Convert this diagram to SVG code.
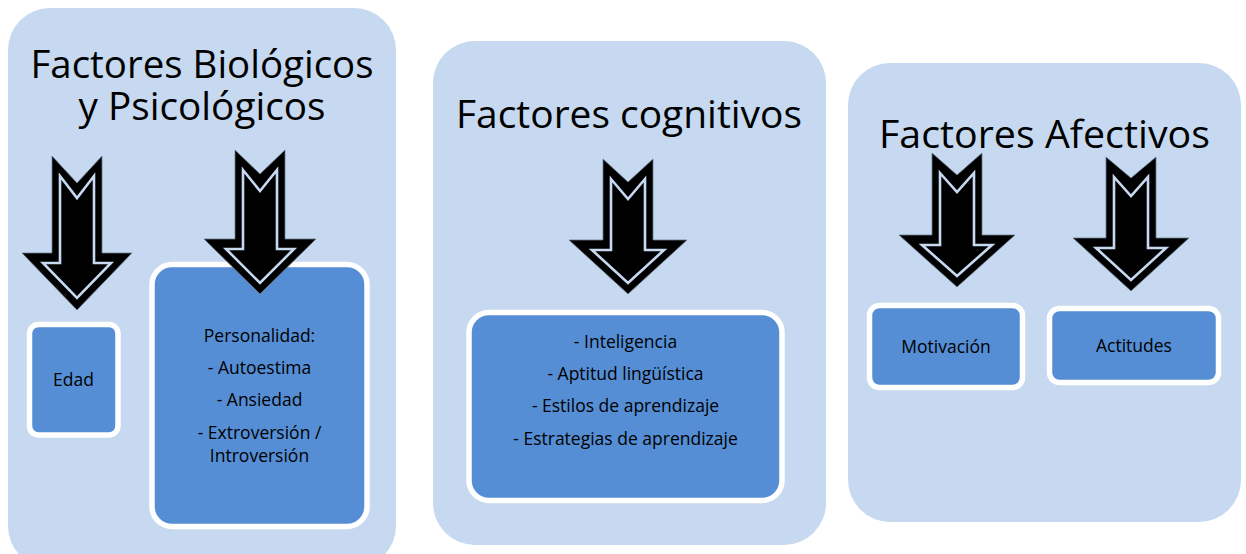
<svg xmlns="http://www.w3.org/2000/svg" width="1246" height="554" viewBox="0 0 1246 554">
<style>
.panel{fill:#c6d9f0;}
.box{fill:#558ed5;stroke:#ffffff;stroke-width:5.5;}
.title{font-family:"Open Sans","Liberation Sans",sans-serif;font-size:38px;fill:#000;text-anchor:middle;}
.lbl{font-family:"Open Sans","Liberation Sans",sans-serif;font-size:17.5px;fill:#000;text-anchor:middle;}
.aout{fill:#000;stroke:#6a7a8c;stroke-width:0.8;stroke-linejoin:miter;}
.ain{fill:#000;stroke:#c6d9f0;stroke-width:2.6;stroke-linejoin:miter;}
</style>
<rect width="1246" height="554" fill="#ffffff"/>
<g id="panel-biologicos">
<rect class="panel" x="8" y="8" width="388" height="560" rx="42"/>
<text class="title" x="202" y="78" textLength="343" lengthAdjust="spacingAndGlyphs">Factores Biológicos</text>
<text class="title" x="202" y="120" textLength="247" lengthAdjust="spacingAndGlyphs">y Psicológicos</text>
</g>
<g id="panel-cognitivos">
<rect class="panel" x="433" y="41" width="393" height="504" rx="42"/>
<text class="title" x="629" y="128" textLength="346" lengthAdjust="spacingAndGlyphs">Factores cognitivos</text>
</g>
<g id="panel-afectivos">
<rect class="panel" x="848" y="63" width="393" height="459" rx="42"/>
<text class="title" x="1044.5" y="148" textLength="331" lengthAdjust="spacingAndGlyphs">Factores Afectivos</text>
</g>
<g id="node-edad">
<rect class="box" x="29.5" y="324.5" width="88.5" height="110.5" rx="9"/>
<text class="lbl" x="73.5" y="386">Edad</text>
</g>
<g id="node-personalidad">
<rect class="box" x="152" y="264.5" width="215" height="262" rx="20"/>
<text class="lbl" x="259.5" y="342">Personalidad:</text>
<text class="lbl" x="259.5" y="374">- Autoestima</text>
<text class="lbl" x="259.5" y="406">- Ansiedad</text>
<text class="lbl" x="259.5" y="439">- Extroversión /</text>
<text class="lbl" x="259.5" y="462">Introversión</text>
</g>
<g id="node-cognitivos">
<rect class="box" x="469" y="312.5" width="313" height="188" rx="20"/>
<text class="lbl" x="625.5" y="348">- Inteligencia</text>
<text class="lbl" x="625.5" y="380">- Aptitud lingüística</text>
<text class="lbl" x="625.5" y="412">- Estilos de aprendizaje</text>
<text class="lbl" x="625.5" y="445">- Estrategias de aprendizaje</text>
</g>
<g id="node-motivacion">
<rect class="box" x="869.5" y="305.5" width="153" height="82" rx="10"/>
<text class="lbl" x="946" y="353">Motivación</text>
</g>
<g id="node-actitudes">
<rect class="box" x="1049.5" y="308.5" width="169" height="74" rx="10"/>
<text class="lbl" x="1134" y="352">Actitudes</text>
</g>
<g id="connectors">
<path class="aout" d="M52,156 L77,183 L102,156 L102,253 L132,253 L77,310 L22,253 L52,253 Z"/>
<path class="ain" d="M60,176 L77,198 L94,176 L94,263 L111,263 L77,298 L43,263 L60,263 Z"/>
<path class="aout" d="M235,150 L260,174 L285,150 L285,239 L316,239 L260,294 L204,239 L235,239 Z"/>
<path class="ain" d="M243,170 L260,191 L277,170 L277,249 L294,249 L260,283 L226,249 L243,249 Z"/>
<path class="aout" d="M603,159 L628,182 L653,159 L653,240 L687,240 L628,294 L569,240 L603,240 Z"/>
<path class="ain" d="M611,179 L628,199 L645,179 L645,250 L664,250 L628,283 L592,250 L611,250 Z"/>
<path class="aout" d="M932,153 L957,175 L982,153 L982,235 L1015,235 L957,287 L899,235 L932,235 Z"/>
<path class="ain" d="M940,173 L957,192 L974,173 L974,245 L992,245 L957,276 L922,245 L940,245 Z"/>
<path class="aout" d="M1106,157 L1131,178 L1156,157 L1156,238 L1189,238 L1131,291 L1073,238 L1106,238 Z"/>
<path class="ain" d="M1114,177 L1131,196 L1148,177 L1148,248 L1166,248 L1131,280 L1096,248 L1114,248 Z"/>
</g>
</svg>
